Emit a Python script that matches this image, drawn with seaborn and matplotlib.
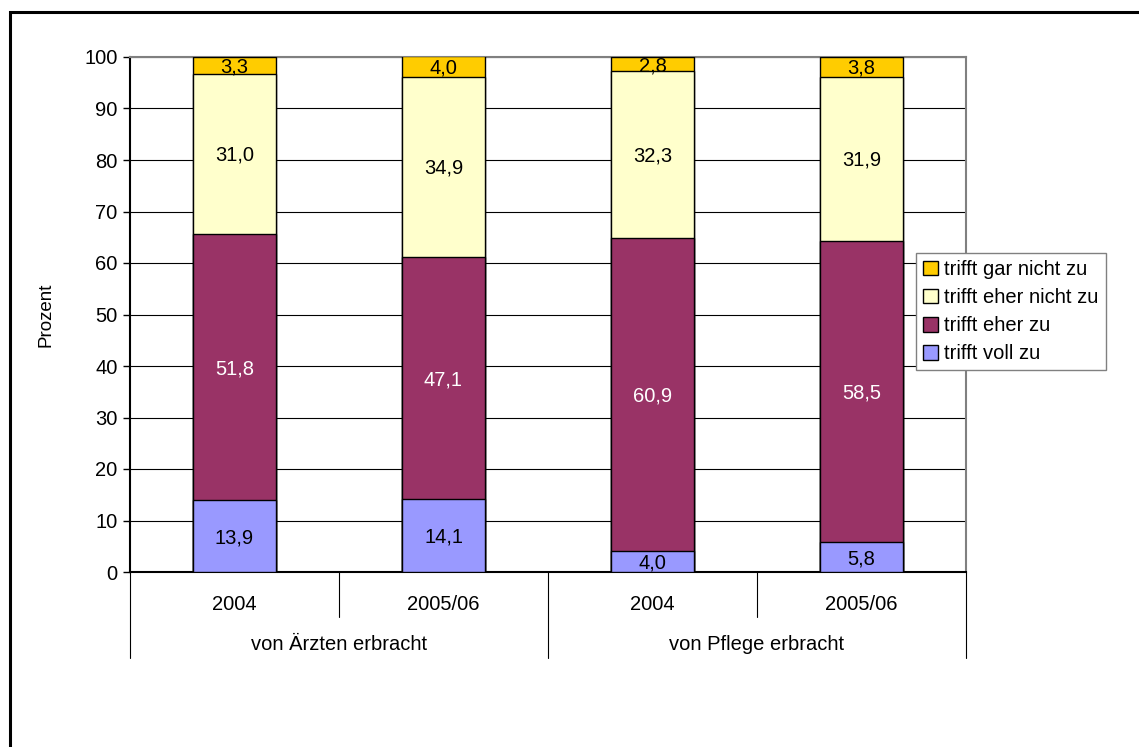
import numpy as np
import pandas as pd
import matplotlib
matplotlib.use('Agg')
import matplotlib.pyplot as plt
import seaborn as sns
from matplotlib.patches import Rectangle

# data
groups = ['von Ärzten erbracht', 'von Pflege erbracht']
years = ['2004', '2005/06', '2004', '2005/06']
keys = ['Ä 2004', 'Ä 2005/06', 'P 2004', 'P 2005/06']
voll_zu = [13.9, 14.1, 4.0, 5.8]
eher_zu = [51.8, 47.1, 60.9, 58.5]
eher_nicht_zu = [31.0, 34.9, 32.3, 31.9]
gar_nicht_zu = [3.3, 4.0, 2.8, 3.8]

series = [
    ('trifft voll zu', voll_zu, '#9999FF', 'black'),
    ('trifft eher zu', eher_zu, '#993366', 'white'),
    ('trifft eher nicht zu', eher_nicht_zu, '#FFFFCC', 'black'),
    ('trifft gar nicht zu', gar_nicht_zu, '#FFCC00', 'black'),
]

sns.set_style('white')
plt.rcParams['font.family'] = ['Liberation Sans', 'DejaVu Sans']
plt.rcParams['text.color'] = 'black'
plt.rcParams['axes.labelcolor'] = 'black'
plt.rcParams['ytick.color'] = 'black'
fs = 14.5

fig = plt.figure(figsize=(11.39, 7.47), dpi=100)
ax = fig.add_axes([130/1139, 1 - 572/747, 836/1139, 515/747])

# outer frame of the original page
fig.patches.append(Rectangle((10/1139, -0.1), 1.2, 1 - 12/747 + 0.1, transform=fig.transFigure,
                             fill=False, edgecolor='black', linewidth=2.2))

# stacked bars: draw cumulative totals from the top down
cum = np.cumsum(np.array([s[1] for s in series]), axis=0)
for i in range(len(series) - 1, -1, -1):
    name, vals, col, _ = series[i]
    df = pd.DataFrame({'key': keys, 'val': cum[i]})
    sns.barplot(data=df, x='key', y='val', color=col, edgecolor='black', linewidth=1,
                width=0.4, saturation=1, label=name, ax=ax, zorder=3)

# value labels
for i, (name, vals, col, tcol) in enumerate(series):
    for j, v in enumerate(vals):
        base = cum[i][j] - v
        ax.text(j, base + v / 2 - 0.3, f'{v:.1f}'.replace('.', ','), ha='center', va='center',
                fontsize=fs, color=tcol, zorder=5)

ax.set_ylim(0, 100)
ax.set_xlim(-0.5, 3.5)
ax.set_yticks(range(0, 101, 10))
ax.tick_params(axis='y', labelsize=fs, length=5, width=1, color='black', left=True, pad=4)
ax.set_ylabel('Prozent', fontsize=13.5, labelpad=21)
ax.set_xlabel('')
ax.set_xticks([])
ax.grid(axis='y', color='black', linewidth=0.8)
ax.set_axisbelow(True)
for side in ['top', 'right']:
    ax.spines[side].set_color('#808080')
    ax.spines[side].set_linewidth(1.5)
for side in ['left', 'bottom']:
    ax.spines[side].set_color('black')
    ax.spines[side].set_linewidth(1.5)

# multi-level category axis
tr = ax.get_xaxis_transform()
for x in [0.5, 2.5]:
    ax.plot([x, x], [0, -45/515], transform=tr, color='black', lw=0.8, clip_on=False)
for x in [-0.5, 1.5, 3.5]:
    ax.plot([x, x], [0, -86/515], transform=tr, color='black', lw=0.8, clip_on=False)
for j, y in enumerate(years):
    ax.text(j, -32/515, y, transform=tr, ha='center', va='center', fontsize=fs)
for g, name in enumerate(groups):
    ax.text(0.5 + 2 * g, -73/515, name, transform=tr, ha='center', va='center', fontsize=fs)

leg = ax.legend(loc='upper left', bbox_to_anchor=(916/1139, 1 - 253/747),
                bbox_transform=fig.transFigure, fontsize=fs, frameon=True, fancybox=False,
                edgecolor='#808080', framealpha=1, handlelength=0.75, handleheight=0.75,
                handletextpad=0.3, labelspacing=0.45, borderpad=0.35, borderaxespad=0)
leg.get_frame().set_linewidth(1)

fig.savefig('out.png', dpi=100)
